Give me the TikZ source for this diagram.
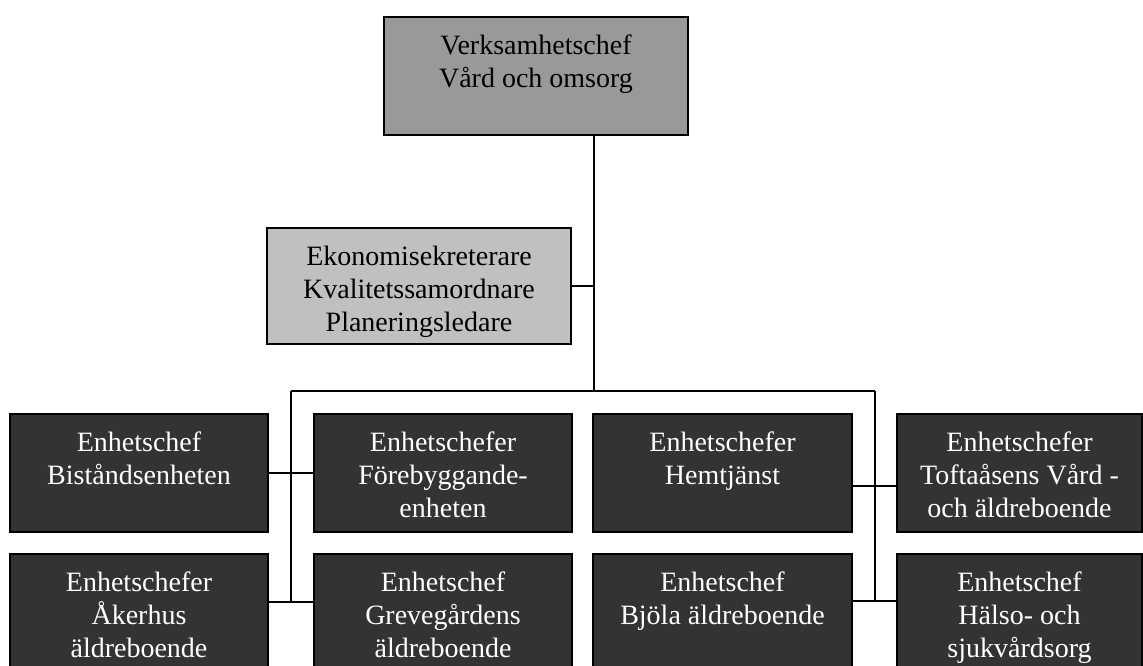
\documentclass[tikz,border=0pt]{standalone}
\usepackage{fontspec}
\setmainfont{Liberation Serif}
\definecolor{topgray}{HTML}{999999}
\definecolor{midgray}{HTML}{C0C0C0}
\definecolor{darkbox}{HTML}{333333}
\begin{document}
\begin{tikzpicture}[x=1pt,y=-1pt,
  box/.style={draw=black,line width=1.5pt,inner sep=0pt,outer sep=0pt,anchor=north west},
  topbox/.style={box,fill=topgray},
  midbox/.style={box,fill=midgray},
  unitbox/.style={box,fill=darkbox,minimum height=118pt},
  txt/.style={anchor=north,inner sep=0pt,align=center,font=\fontsize{28}{33}\selectfont},
  wtxt/.style={txt,text=white},
  conn/.style={draw=black,line width=1.4pt}]
\useasboundingbox (0,0) rectangle (1143,666);
% boxes
\node[topbox,minimum width=304pt,minimum height=118pt] (top) at (384,17) {};
\node[midbox,minimum width=304pt,minimum height=116pt] (mid) at (267,228) {};
\node[unitbox,minimum width=258pt] (b1) at (10,414) {};
\node[unitbox,minimum width=258pt] (b2) at (314,414) {};
\node[unitbox,minimum width=259pt] (b3) at (593,414) {};
\node[unitbox,minimum width=245pt] (b4) at (897,414) {};
\node[unitbox,minimum width=258pt,minimum height=140pt] (c1) at (10,554) {};
\node[unitbox,minimum width=258pt,minimum height=140pt] (c2) at (314,554) {};
\node[unitbox,minimum width=259pt,minimum height=140pt] (c3) at (593,554) {};
\node[unitbox,minimum width=245pt,minimum height=140pt] (c4) at (897,554) {};
% texts
\node[txt] (ttop) at ([yshift=-18pt]top.north) {Verksamhetschef\\Vård och omsorg};
\node[txt] (tmid) at ([yshift=-18pt]mid.north) {Ekonomisekreterare\\Kvalitetssamordnare\\Planeringsledare};
\node[wtxt] (tb1) at ([yshift=-18pt]b1.north) {Enhetschef\\Biståndsenheten};
\node[wtxt] (tb2) at ([yshift=-18pt]b2.north) {Enhetschefer\\Förebyggande-\\enheten};
\node[wtxt] (tb3) at ([yshift=-18pt]b3.north) {Enhetschefer\\Hemtjänst};
\node[wtxt] (tb4) at ([yshift=-18pt]b4.north) {Enhetschefer\\Toftaåsens Vård -\\och äldreboende};
\node[wtxt] (tc1) at ([yshift=-18pt]c1.north) {Enhetschefer\\Åkerhus\\äldreboende};
\node[wtxt] (tc2) at ([yshift=-18pt]c2.north) {Enhetschef\\Grevegårdens\\äldreboende};
\node[wtxt] (tc3) at ([yshift=-18pt]c3.north) {Enhetschef\\Bjöla äldreboende};
\node[wtxt] (tc4) at ([yshift=-18pt]c4.north) {Enhetschef\\Hälso- och\\sjukvårdsorg};
% connector coordinates
\coordinate (bus) at (594,391);
\coordinate (busL) at (291,391);
\coordinate (busR) at (875,391);
\coordinate (endL) at (291,602);
\coordinate (endR) at (875,602);
\coordinate (midj) at (594,286);
% connectors
\draw[conn] (top.south -| bus) -- (bus);
\draw[conn] (mid.east |- midj) -- (midj);
\draw[conn] (busL) -- (busR);
\draw[conn] (busL) -- (endL);
\draw[conn] (busR) -- (endR);
\draw[conn] (b1.east |- 0,473) -- (b2.west |- 0,473);
\draw[conn] (c1.east |- 0,602) -- (c2.west |- 0,602);
\draw[conn] (b3.east |- 0,486) -- (b4.west |- 0,486);
\draw[conn] (c3.east |- 0,601) -- (c4.west |- 0,601);
\end{tikzpicture}
\end{document}
